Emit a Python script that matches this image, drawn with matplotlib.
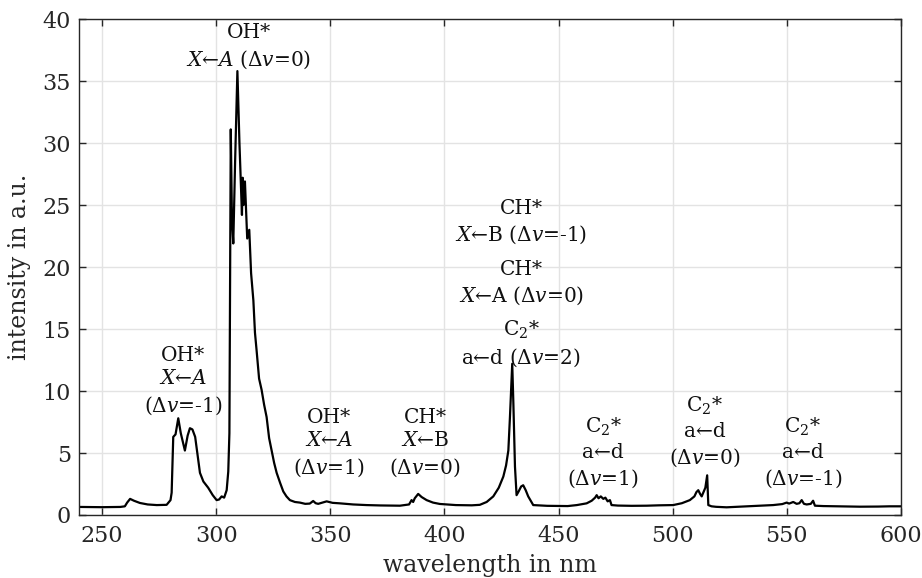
import numpy as np
import matplotlib
matplotlib.use("Agg")
import matplotlib.pyplot as plt

# spectrum (wavelength in nm, intensity in a.u.)
wavelength = [240, 250, 258, 260, 261, 262.3, 264, 266.6, 270, 274, 278.3, 280, 280.5, 281.2, 282.2,
              283.4, 284.5, 286.3, 287.5, 288.5, 289.6, 290.8, 292.9, 294.4, 296.5, 298.5, 300.2,
              301.3, 302.4, 303.5, 304.6, 305.3, 305.8, 306.4, 306.9, 307.5, 308.3, 309.3, 310.2,
              311.3, 311.6, 312.0, 312.6, 313.6, 314.5, 315.3, 316.3, 317.0, 317.7, 318.8, 319.9,
              321.0, 322.1, 323.2, 324.3, 325.4, 326.5, 328.0, 329.4, 330.8, 332.3, 334.5, 336.7,
              339.0, 341.0, 342.5, 343.6, 344.7, 346.5, 348.4, 351.0, 354.2, 360.0, 365.9, 372.0,
              380.5, 384.5, 385.6, 386.3, 387.0, 388.5, 390.0, 392.2, 395.0, 398.0, 405.0, 412.0,
              415.5, 418.5, 421.4, 423.8, 425.8, 427.0, 428.0, 428.7, 429.3, 429.7, 430.2, 430.9,
              431.6, 432.5, 433.6, 434.5, 435.6, 436.7, 438.9, 445.0, 454.0, 458.0, 462.3, 464.5,
              466.0, 466.7, 467.5, 468.5, 469.6, 470.5, 471.5, 472.5, 473.2, 476.0, 482.0, 488.6,
              494.0, 500.2, 504.0, 507.5, 509.5, 510.4, 511.2, 512.0, 512.7, 513.6, 514.3, 515.1,
              515.6, 517.0, 519.0, 523.6, 530.0, 538.2, 544.0, 548.0, 549.9, 551.0, 552.8, 554.3,
              555.5, 556.5, 557.5, 558.7, 560.5, 561.5, 562.3, 566.0, 572.0, 582.0, 590.0, 595.0,
              599.5, 600.0]
intensity = [0.65, 0.63, 0.65, 0.7, 1.0, 1.3, 1.15, 0.97, 0.85, 0.8, 0.82, 1.2, 1.8, 6.3, 6.5,
             7.8, 6.6, 5.2, 6.4, 7.0, 6.9, 6.3, 3.4, 2.7, 2.2, 1.6, 1.2,
             1.25, 1.5, 1.4, 2.0, 3.5, 6.6, 31.1, 24.0, 21.9, 28.5, 35.8, 30.0,
             24.2, 27.2, 25.0, 26.9, 22.3, 23.0, 19.5, 17.3, 14.7, 13.3, 11.0, 10.1,
             8.9, 7.9, 6.2, 5.2, 4.2, 3.4, 2.6, 1.9, 1.5, 1.2, 1.05, 1.0,
             0.9, 0.92, 1.13, 0.95, 0.9, 1.0, 1.1, 0.98, 0.94, 0.85, 0.8, 0.77,
             0.75, 0.85, 1.2, 1.05, 1.35, 1.7, 1.45, 1.2, 1.0, 0.89, 0.8, 0.78,
             0.82, 1.05, 1.5, 2.2, 3.1, 4.0, 5.2, 7.9, 10.5, 12.2, 9.0, 3.9,
             1.6, 1.9, 2.3, 2.4, 2.0, 1.5, 0.8, 0.74, 0.72, 0.8, 0.94, 1.15,
             1.4, 1.6, 1.35, 1.5, 1.3, 1.4, 1.1, 1.2, 0.8, 0.76, 0.74, 0.75,
             0.78, 0.8, 0.95, 1.2, 1.5, 1.85, 2.0, 1.7, 1.5, 1.9, 2.2, 3.2,
             0.8, 0.7, 0.66, 0.62, 0.68, 0.75, 0.8, 0.88, 1.0, 0.92, 1.05, 0.9,
             0.95, 1.2, 0.9, 0.85, 0.9, 1.15, 0.75, 0.72, 0.7, 0.67, 0.68, 0.7,
             0.7, 0.7]

# peak labels: (text, wavelength, intensity of text centre)
labels = ["OH*", r"$X$←$A$ ($\Delta v$=0)",
          "OH*\n" + r"$X$←$A$" + "\n" + r"($\Delta v$=-1)",
          "OH*\n" + r"$X$←$A$" + "\n" + r"($\Delta v$=1)",
          "CH*\n" + r"$X$←B" + "\n" + r"($\Delta v$=0)",
          "CH*\n" + r"$X$←B ($\Delta v$=-1)",
          "CH*\n" + r"$X$←A ($\Delta v$=0)",
          r"C$_2$*" + "\n" + r"a←d ($\Delta v$=2)",
          r"C$_2$*" + "\n" + r"a←d" + "\n" + r"($\Delta v$=1)",
          r"C$_2$*" + "\n" + r"a←d" + "\n" + r"($\Delta v$=0)",
          r"C$_2$*" + "\n" + r"a←d" + "\n" + r"($\Delta v$=-1)"]
label_x = [314.4, 314.4, 285.5, 349.5, 391.5, 433.6, 433.6, 433.6, 469.5, 514.0, 557.0]
label_y = [38.9, 36.7, 10.8, 5.8, 5.8, 23.6, 18.7, 13.8, 5.0, 6.7, 5.0]

plt.rcParams['font.family'] = ['DejaVu Serif']
plt.rcParams['mathtext.fontset'] = 'dejavuserif'

fig = plt.figure(figsize=(9.22, 5.78), dpi=100)
ax = fig.add_axes([0.0859, 0.109, 0.8913, 0.8581])

ax.plot(wavelength, intensity, color='black', lw=1.6)

for txt, lx, ly in zip(labels, label_x, label_y):
    ax.text(lx, ly, txt, ha='center', va='center', fontsize=14.5,
            linespacing=1.33, color='#111111')

ax.set_xlim(240, 600)
ax.set_ylim(0, 40)
ax.set_xticks(np.arange(250, 601, 50))
ax.set_yticks(np.arange(0, 41, 5))
ax.grid(True, color='#e3e3e3', lw=1)
ax.set_axisbelow(True)
ax.tick_params(direction='in', top=True, right=True, length=5, width=1,
               color='#262626', labelsize=16, labelcolor='#262626')
ax.tick_params(axis='x', pad=7)
ax.tick_params(axis='y', pad=6)
for s in ax.spines.values():
    s.set_color('#262626')
    s.set_linewidth(1)

ax.set_xlabel('wavelength in nm', fontsize=17, color='#262626', labelpad=5)
ax.set_ylabel('intensity in a.u.', fontsize=17, color='#262626', labelpad=8)

fig.savefig('out.png', dpi=100)
